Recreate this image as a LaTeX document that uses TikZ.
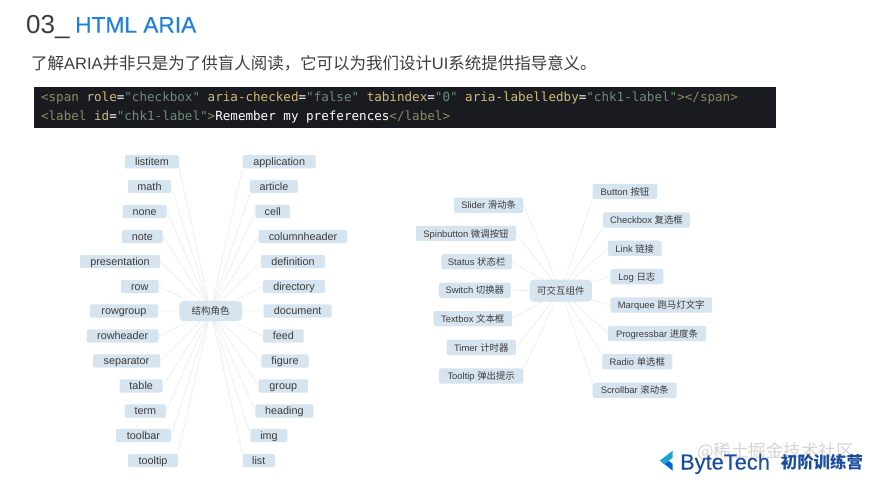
\documentclass[tikz,border=0pt]{standalone}
\usepackage{fontspec}
\setmainfont{Liberation Sans}
\setmonofont{DejaVu Sans Mono}
\newfontfamily\cjk{Noto Sans CJK SC}
\newfontfamily\heavy[FakeBold=0.25]{Liberation Sans}
\usepackage{tikz}
\usetikzlibrary{backgrounds}
\definecolor{myInk}{HTML}{3C3C3C}
\definecolor{myBlue}{HTML}{1F80E0}
\definecolor{myBox}{HTML}{D6E4EF}
\definecolor{myLink}{HTML}{EDF0F2}
\definecolor{myCode}{HTML}{1A1B20}
\definecolor{myTag}{HTML}{8F8A5E}
\definecolor{myAttr}{HTML}{CDBE78}
\definecolor{myStr}{HTML}{6E8C76}
\definecolor{myNavy}{HTML}{1A4CA0}
\newcommand{\tagc}[1]{\textcolor{myTag}{#1}}
\newcommand{\attrc}[1]{\textcolor{myAttr}{#1}}
\newcommand{\strc}[1]{\textcolor{myStr}{#1}}

\begin{document}
\begin{tikzpicture}[
  x=1pt, y=-1pt,
  role/.style={fill=myBox, rounded corners=1.5pt, inner sep=0pt, minimum height=13.4pt,
               text height=9pt, text depth=1.6pt,
               font=\fontsize{10.8}{12}\selectfont, text=myInk},
  widget/.style={fill=myBox, rounded corners=1.5pt, inner sep=0pt, minimum height=15.2pt,
               text height=9pt, text depth=1.6pt,
               font=\fontsize{9.4}{12}\selectfont, text=myInk},
  hub/.style={fill=myBox, rounded corners=4pt, inner sep=0pt,
              font=\cjk\fontsize{9.5}{12}\selectfont, text=myInk},
  link/.style={draw=myLink, line width=0.9pt}
]
\useasboundingbox (0,0) rectangle (873,480);

% heading
\node[anchor=base west, inner sep=0pt, text=myInk, font=\fontsize{26}{30}\selectfont] (num) at (26,33) {03\_};
\node[anchor=base west, inner sep=0pt, text=myBlue, font=\heavy\fontsize{22.7}{28}\selectfont] (title) at (75,32.7) {HTML ARIA};
\node[anchor=base west, inner sep=0pt, text=myInk, font=\fontsize{16.47}{20}\selectfont] (intro) at (31,69.5)
  {{\cjk 了解}ARIA{\cjk 并非只是为了供盲人阅读，它可以为我们设计}UI{\cjk 系统提供指导意义。}};

% code bar
\node[fill=myCode, inner sep=0pt, minimum width=742pt, minimum height=41.4pt, text width=727pt, align=flush left,
      font=\ttfamily\fontsize{12.58}{18.5}\selectfont, text=white] (code) at (404.6,107.3)
  {\tagc{<span} \attrc{role}=\strc{"checkbox"} \attrc{aria-checked}=\strc{"false"} \attrc{tabindex}=\strc{"0"} \attrc{aria-labelledby}=\strc{"chk1-label"}\tagc{></span>}\\
   \tagc{<label} \attrc{id}=\strc{"chk1-label"}\tagc{>}Remember my preferences\tagc{</label>}};

% left tree
\node[hub, minimum width=62.7pt, minimum height=20pt] (roles) at (210.7,311) {结构角色};

\node[role, minimum width=54pt] (listitem) at (152,161.7) {listitem};
\node[role, minimum width=43pt] (math) at (149.5,186.5) {math};
\node[role, minimum width=44pt] (none) at (144.7,211.5) {none};
\node[role, minimum width=40.7pt] (note) at (142.3,236.5) {note};
\node[role, minimum width=80pt] (presentation) at (120,261.5) {presentation};
\node[role, minimum width=37.7pt] (row) at (139.8,286.5) {row};
\node[role, minimum width=68pt] (rowgroup) at (124,311) {rowgroup};
\node[role, minimum width=72pt] (rowheader) at (122.7,336) {rowheader};
\node[role, minimum width=67pt] (separator) at (126.5,361) {separator};
\node[role, minimum width=43pt] (table) at (141.2,386) {table};
\node[role, minimum width=41.3pt] (term) at (145.3,411) {term};
\node[role, minimum width=55pt] (toolbar) at (143.5,435.5) {toolbar};
\node[role, minimum width=50pt] (tooltip) at (153,460.5) {tooltip};

\node[role, minimum width=73pt] (application) at (279.2,161.7) {application};
\node[role, minimum width=48pt] (article) at (274,186.5) {article};
\node[role, minimum width=34.7pt] (cell) at (272.7,211.5) {cell};
\node[role, minimum width=88.6pt] (columnheader) at (303,236.5) {columnheader};
\node[role, minimum width=64pt] (definition) at (293,261.5) {definition};
\node[role, minimum width=62pt] (directory) at (294,286.5) {directory};
\node[role, minimum width=68pt] (document) at (297.7,311) {document};
\node[role, minimum width=40.7pt] (feed) at (283.3,336) {feed};
\node[role, minimum width=47.4pt] (figure) at (285,361) {figure};
\node[role, minimum width=49.3pt] (group) at (283.3,386) {group};
\node[role, minimum width=58pt] (heading) at (284.3,411) {heading};
\node[role, minimum width=36.6pt] (img) at (269,435.5) {img};
\node[role, minimum width=32.3pt] (list) at (258.8,460.5) {list};

% right tree
\node[hub, minimum width=62.3pt, minimum height=22pt] (widgets) at (560.8,290.7) {可交互组件};

\node[widget, minimum width=69.3pt] (slider) at (488.7,205.2) {Slider {\cjk 滑动条}};
\node[widget, minimum width=100pt] (spinbutton) at (466,233.5) {Spinbutton {\cjk 微调按钮}};
\node[widget, minimum width=70.7pt] (status) at (476.7,261.8) {Status {\cjk 状态栏}};
\node[widget, minimum width=71.7pt] (switch) at (474.8,290.2) {Switch {\cjk 切换器}};
\node[widget, minimum width=78.7pt] (textbox) at (472.7,318.7) {Textbox {\cjk 文本框}};
\node[widget, minimum width=69.3pt] (timer) at (481.3,347.3) {Timer {\cjk 计时器}};
\node[widget, minimum width=84.3pt] (tooltipw) at (481.2,376) {Tooltip {\cjk 弹出提示}};

\node[widget, minimum width=64.6pt] (button) at (625,191.5) {Button {\cjk 按钮}};
\node[widget, minimum width=87pt] (checkbox) at (646.5,220) {Checkbox {\cjk 复选框}};
\node[widget, minimum width=53.7pt] (linkw) at (634.8,248.3) {Link {\cjk 链接}};
\node[widget, minimum width=53pt] (log) at (636.8,276.7) {Log {\cjk 日志}};
\node[widget, minimum width=101.7pt] (marquee) at (661.2,305) {Marquee {\cjk 跑马灯文字}};
\node[widget, minimum width=98pt] (progressbar) at (657,333.5) {Progressbar {\cjk 进度条}};
\node[widget, minimum width=70pt] (radio) at (637.3,361.8) {Radio {\cjk 单选框}};
\node[widget, minimum width=84pt] (scrollbar) at (634.7,390.2) {Scrollbar {\cjk 滚动条}};

% connectors
\begin{scope}[on background layer]
\draw[link] (roles.center) -- (listitem.south east) (roles.center) -- (math.east) (roles.center) -- (none.east)
  (roles.center) -- (note.east) (roles.center) -- (presentation.east) (roles.center) -- (row.east)
  (roles.center) -- (rowgroup.east) (roles.center) -- (rowheader.east) (roles.center) -- (separator.east)
  (roles.center) -- (table.east) (roles.center) -- (term.east) (roles.center) -- (toolbar.east)
  (roles.center) -- (tooltip.north east);
\draw[link] (roles.center) -- (application.south west) (roles.center) -- (article.south west) (roles.center) -- (cell.west)
  (roles.center) -- (columnheader.west) (roles.center) -- (definition.west) (roles.center) -- (directory.west)
  (roles.center) -- (document.west) (roles.center) -- (feed.west) (roles.center) -- (figure.west)
  (roles.center) -- (group.west) (roles.center) -- (heading.west) (roles.center) -- (img.west)
  (roles.center) -- (list.north west);
\draw[link] (widgets.center) -- (slider.east) (widgets.center) -- (spinbutton.east) (widgets.center) -- (status.east)
  (widgets.center) -- (switch.east) (widgets.center) -- (textbox.east) (widgets.center) -- (timer.east)
  (widgets.center) -- (tooltipw.north east);
\draw[link] (widgets.center) -- (button.south west) (widgets.center) -- (checkbox.south west) (widgets.center) -- (linkw.west)
  (widgets.center) -- (log.west) (widgets.center) -- (marquee.west) (widgets.center) -- (progressbar.west)
  (widgets.center) -- (radio.north west) (widgets.center) -- (scrollbar.north west);
\end{scope}

% logo
\node[anchor=west, inner sep=0pt, text=black!17, font=\cjk\fontsize{17.5}{20}\selectfont] (mark) at (697,451.5) {@稀土掘金技术社区};
\fill[blue!55!cyan!85!black] (660,460.5) -- (672.7,470.7) -- (672.7,464) -- (665,458) -- cycle;
\fill[cyan!75!teal] (672.7,450.7) -- (660,460.5) -- (664.5,464.5) -- (672.7,457.5) -- cycle;
\node[anchor=base west, inner sep=0pt, text=myNavy, font=\heavy\fontsize{21.8}{26}\selectfont] (brand) at (680,469.5) {ByteTech};
\node[anchor=west, inner sep=0pt, text=myNavy, font=\cjk\bfseries\fontsize{16.4}{20}\selectfont] (camp) at (780.7,462) {初阶训练营};
\end{tikzpicture}
\end{document}
